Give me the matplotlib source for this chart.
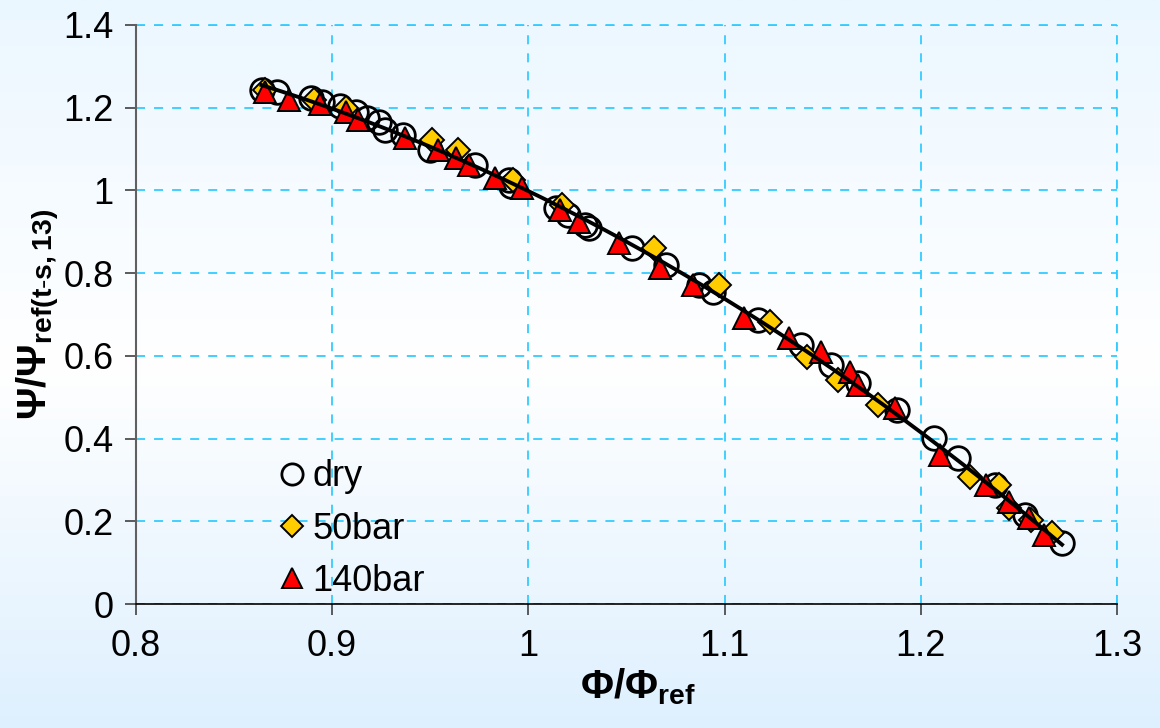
import numpy as np
import matplotlib
matplotlib.use("Agg")
import matplotlib.pyplot as plt
from matplotlib.colors import LinearSegmentedColormap

plt.rcParams['font.family'] = ['Liberation Sans', 'DejaVu Sans']
plt.rcParams['mathtext.fontset'] = 'custom'
plt.rcParams['mathtext.rm'] = 'Liberation Sans'
plt.rcParams['mathtext.bf'] = 'Liberation Sans:bold'

# dry
dry_x = [0.864, 0.872, 0.889, 0.895, 0.904, 0.912, 0.918, 0.924, 0.927, 0.936,
         0.950, 0.973, 0.990, 0.991, 1.014, 1.020, 1.029, 1.031, 1.053, 1.070,
         1.087, 1.094, 1.117, 1.139, 1.154, 1.168, 1.188, 1.207, 1.219, 1.238,
         1.253, 1.272]
dry_y = [1.243, 1.238, 1.223, 1.214, 1.204, 1.190, 1.175, 1.165, 1.146, 1.134,
         1.098, 1.061, 1.025, 1.011, 0.957, 0.941, 0.916, 0.909, 0.861, 0.820,
         0.771, 0.754, 0.687, 0.626, 0.578, 0.534, 0.469, 0.401, 0.353, 0.288,
         0.215, 0.147]

# 50 bar
b50_x = [0.866, 0.891, 0.907, 0.951, 0.964, 0.992, 1.017, 1.064, 1.097, 1.123,
         1.142, 1.158, 1.178, 1.225, 1.240, 1.245, 1.256, 1.267]
b50_y = [1.243, 1.219, 1.199, 1.122, 1.098, 1.025, 0.965, 0.861, 0.771, 0.682,
         0.597, 0.542, 0.481, 0.307, 0.288, 0.232, 0.203, 0.172]

# 140 bar
b140_x = [0.866, 0.878, 0.894, 0.907, 0.913, 0.937, 0.954, 0.963, 0.970, 0.983,
          0.997, 1.016, 1.026, 1.046, 1.067, 1.084, 1.110, 1.133, 1.149, 1.164,
          1.168, 1.187, 1.210, 1.233, 1.245, 1.255, 1.263]
b140_y = [1.238, 1.219, 1.209, 1.190, 1.170, 1.127, 1.098, 1.078, 1.061, 1.030,
          1.006, 0.953, 0.924, 0.873, 0.812, 0.771, 0.691, 0.643, 0.609, 0.561,
          0.530, 0.474, 0.360, 0.288, 0.247, 0.208, 0.167]

xticks = [0.8, 0.9, 1.0, 1.1, 1.2, 1.3]
xticklabels = ['0.8', '0.9', '1', '1.1', '1.2', '1.3']
yticks = [0, 0.2, 0.4, 0.6, 0.8, 1.0, 1.2, 1.4]
yticklabels = ['0', '0.2', '0.4', '0.6', '0.8', '1', '1.2', '1.4']

fig = plt.figure(figsize=(11.6, 7.28), dpi=100)

# background gradient
bg = fig.add_axes([0, 0, 1, 1], zorder=-10)
cmap = LinearSegmentedColormap.from_list(
    'bg', [(0.0, '#EBF7FF'), (0.5, '#FFFFFF'), (1.0, '#DEF0FE')])
bg.imshow(np.linspace(0, 1, 256).reshape(-1, 1), aspect='auto', cmap=cmap,
          extent=[0, 1, 0, 1])
bg.axis('off')

ax = fig.add_axes([0.1172, 0.1703, 0.8457, 0.7954])
ax.patch.set_alpha(0)

ax.plot(dry_x, dry_y, 'o', ms=17, mfc='none', mec='black', mew=2.0,
        label='dry', zorder=3)
ax.plot(b50_x, b50_y, 'D', ms=12, mfc='#FFCC00', mec='black', mew=1.4,
        label='50bar', zorder=4)
ax.plot(b140_x, b140_y, '^', ms=16, mfc='#FF0000', mec='black', mew=1.4,
        label='140bar', zorder=5)

# trend line through all points
all_x = np.array(dry_x + b50_x + b140_x)
all_y = np.array(dry_y + b50_y + b140_y)
coef = np.polyfit(all_x, all_y, 3)
fx = np.linspace(all_x.min(), all_x.max(), 200)
ax.plot(fx, np.polyval(coef, fx), color='black', lw=2.8, zorder=6)

ax.set_xlim(0.8, 1.3)
ax.set_ylim(0, 1.4)
ax.set_xticks(xticks)
ax.set_xticklabels(xticklabels)
ax.set_yticks(yticks)
ax.set_yticklabels(yticklabels)
ax.tick_params(labelsize=26, direction='out', length=8, width=1.2,
               color='#404040')
ax.tick_params(axis='x', pad=10)
ax.tick_params(axis='y', pad=8)
ax.grid(True, color='#33CCFF', ls=(0, (5, 5)), lw=1.3)
ax.set_axisbelow(True)
for s in ['top', 'right']:
    ax.spines[s].set_visible(False)
ax.spines['left'].set_color('#606060')
ax.spines['left'].set_linewidth(1.5)
ax.spines['bottom'].set_color('black')
ax.spines['bottom'].set_linewidth(1.2)
# top and right edges show as dashed grid lines
ax.axhline(1.4, color='#33CCFF', ls=(0, (5, 5)), lw=1.3, clip_on=False)
ax.axvline(1.3, color='#33CCFF', ls=(0, (5, 5)), lw=1.3, clip_on=False)

ax.set_xlabel(r'$\mathbf{\Phi/\Phi}_{\mathbf{ref}}$', fontsize=29)
ax.xaxis.set_label_coords(0.512, -0.108)
ax.set_ylabel(r'$\mathbf{\Psi/\Psi}_{\mathbf{ref(t\text{-}s,13)}}$', fontsize=29)
ax.yaxis.set_label_coords(-0.075, 0.5)

ax.legend(loc='upper left', bbox_to_anchor=(0.13, 0.275), borderaxespad=0,
          frameon=False, fontsize=26, handlelength=0.8, handletextpad=0.15,
          labelspacing=0.48, markerscale=0.9)

fig.savefig('out.png', dpi=100)
